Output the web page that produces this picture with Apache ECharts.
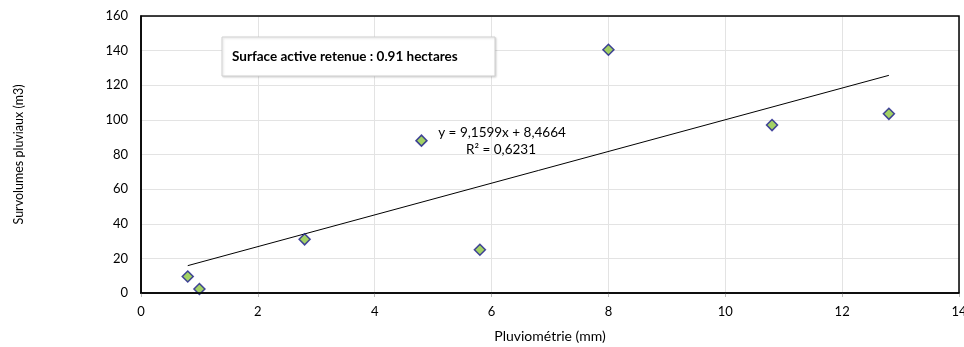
<!DOCTYPE html>
<html>
<head>
<meta charset="utf-8">
<script src="https://cdn.jsdelivr.net/npm/echarts@6/dist/echarts.min.js"></script>
<style>
  html, body { margin: 0; padding: 0; background: #fff; }
  #chart { width: 964px; height: 347px; }
</style>
</head>
<body>
<div id="chart"></div>
<script>
// données
const pluvio = [0.8, 1.0, 2.8, 4.8, 5.8, 8.0, 10.8, 12.8]
const survolumes = [9.5, 2.3, 31, 88, 25, 140.5, 97, 103.5]
// droite de régression (Excel)
const pente = 9.1599
const origine = 8.4664
const r2 = '0,6231'

const points = pluvio.map((x, i) => [x, survolumes[i]])
const xMin = Math.min(...pluvio)
const xMax = Math.max(...pluvio)
const tendance = [[xMin, pente * xMin + origine], [xMax, pente * xMax + origine]]

const font = 'Lato, "Open Sans", sans-serif'
const chart = echarts.init(document.getElementById('chart'))

chart.setOption({
  animation: false,
  grid: { left: 141, right: 5, top: 16, bottom: 54, outerBoundsMode: 'none', containLabel: false },
  xAxis: {
    type: 'value',
    min: 0, max: 14, interval: 2,
    name: 'Pluviométrie (mm)',
    nameLocation: 'middle',
    nameGap: 36,
    nameTextStyle: { fontFamily: font, fontSize: 14, color: '#000' },
    axisLine: { lineStyle: { color: '#000', width: 1.5 } },
    axisTick: { show: true, length: 4, lineStyle: { color: '#bbb' } },
    axisLabel: { fontFamily: font, fontSize: 13, color: '#000', margin: 12 },
    splitLine: { show: true, lineStyle: { color: '#e3e3e3' } }
  },
  yAxis: {
    type: 'value',
    min: 0, max: 160, interval: 20,
    name: 'Survolumes pluviaux (m3)',
    nameLocation: 'middle',
    nameGap: 116,
    nameTextStyle: { fontFamily: font, fontSize: 12.5, color: '#000' },
    axisLine: { show: true, lineStyle: { color: '#000', width: 1.5 } },
    axisTick: { show: false },
    axisLabel: { fontFamily: font, fontSize: 13, color: '#000', margin: 13 },
    splitLine: { show: true, lineStyle: { color: '#e3e3e3' } }
  },
  graphic: [
    {
      type: 'rect',
      shape: { x: 141, y: 16, width: 818, height: 277 },
      style: { fill: 'none', stroke: '#000', lineWidth: 1.5 },
      silent: true, z: 10
    },
    {
      type: 'rect',
      shape: { x: 222, y: 37, width: 273, height: 39 },
      style: { fill: '#fff', stroke: '#d0d0d0', lineWidth: 1, shadowColor: 'rgba(0,0,0,0.15)', shadowBlur: 2, shadowOffsetX: 1, shadowOffsetY: 1 },
      z: 5
    },
    {
      type: 'text',
      x: 232, y: 57,
      style: { text: 'Surface active retenue : 0.91 hectares', fontFamily: font, fontSize: 13.5, fontWeight: 'bold', fill: '#000', verticalAlign: 'middle' },
      z: 6
    },
    {
      type: 'text',
      x: 502, y: 133,
      style: { text: 'y = 9,1599x + 8,4664', fontFamily: font, fontSize: 13.5, fill: '#000', align: 'center', verticalAlign: 'middle' },
      z: 6
    },
    {
      type: 'text',
      x: 501, y: 150,
      style: { text: 'R² = ' + r2, fontFamily: font, fontSize: 13.5, fill: '#000', align: 'center', verticalAlign: 'middle' },
      z: 6
    }
  ],
  series: [
    {
      type: 'line',
      data: tendance,
      symbol: 'none',
      lineStyle: { color: '#000', width: 1 },
      z: 2
    },
    {
      type: 'scatter',
      data: points,
      symbol: 'diamond',
      symbolSize: 11,
      itemStyle: { color: '#8CC63F', borderColor: '#1a1a8c', borderWidth: 1.5 },
      z: 3
    }
  ]
})
</script>
</body>
</html>
